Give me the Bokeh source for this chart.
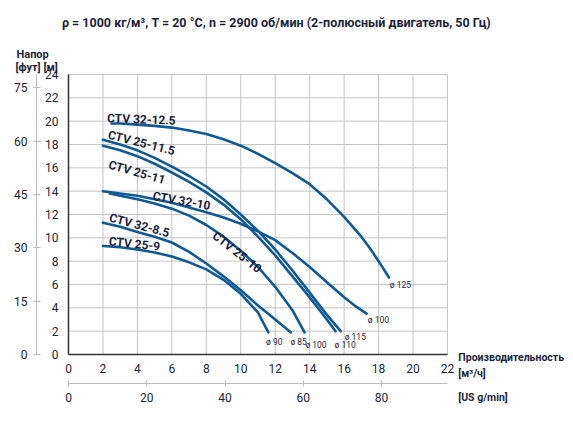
from bokeh.plotting import figure
from bokeh.models import LinearAxis, Range1d, Label
from bokeh.embed import file_html
from bokeh.resources import INLINE

FONT = "Roboto"
INK = "#1c1f3a"
CURVE = "#0f5a96"
GRID = "#c4c4c4"
AXIS = "#333333"
SEC = "#bdbdbd"

# ---- axes / ticks ----
x_ticks = [0, 2, 4, 6, 8, 10, 12, 14, 16, 18, 20, 22]
y_ticks = [0, 2, 4, 6, 8, 10, 12, 14, 16, 18, 20, 22, 24]
ft_ticks = [0, 15, 30, 45, 60, 75]
gpm_ticks = [0, 20, 40, 60, 80]
M3H_TO_GPM = 4.40287
M_TO_FT = 3.28084

# ---- pump curves (flow m3/h, head m) ----
names = ["CTV 32-12.5", "CTV 25-11.5", "CTV 25-11", "CTV 32-10", "CTV 25-10", "CTV 32-8.5", "CTV 25-9"]
diameters = ["ø 125", "ø 115", "ø 110", "ø 100", "ø 100", "ø 85", "ø 90"]

flow_32_125 = [2.5, 3, 4, 5, 6, 7, 8, 9, 10, 11, 12, 13, 14, 15, 16, 17, 17.5, 18, 18.6]
head_32_125 = [19.8, 19.8, 19.7, 19.6, 19.45, 19.2, 18.9, 18.45, 17.9, 17.2, 16.4, 15.55, 14.6, 13.3, 11.8, 10.1, 9.1, 8.0, 6.6]

flow_25_115 = [2, 3, 4, 5, 6, 7, 8, 9, 10, 11, 12, 13, 14, 15, 15.8]
head_25_115 = [18.4, 18.0, 17.5, 16.85, 16.1, 15.3, 14.4, 13.3, 12.0, 10.6, 9.0, 7.2, 5.3, 3.4, 2.0]

flow_25_11 = [2, 3, 4, 5, 6, 7, 8, 9, 10, 11, 12, 13, 14, 15, 15.5]
head_25_11 = [17.9, 17.5, 17.0, 16.35, 15.6, 14.8, 13.9, 12.85, 11.6, 10.1, 8.5, 6.7, 4.9, 3.0, 2.0]

flow_32_10 = [2, 3, 4, 5, 6, 7, 8, 9, 10, 11, 12, 13, 14, 15, 16, 16.7, 17.3]
head_32_10 = [14.0, 13.8, 13.6, 13.3, 13.0, 12.6, 12.2, 11.75, 11.2, 10.55, 9.8, 8.7, 7.5, 6.2, 4.9, 4.1, 3.5]

flow_25_10 = [2.4, 3, 4, 5, 6, 7, 8, 9, 10, 11, 12, 13, 13.7]
head_25_10 = [13.8, 13.6, 13.3, 12.95, 12.5, 11.9, 11.1, 10.1, 8.9, 7.5, 5.8, 3.8, 1.9]

flow_32_85 = [2, 3, 4, 5, 6, 7, 8, 9, 10, 11, 12, 12.9]
head_32_85 = [11.3, 10.95, 10.5, 10.1, 9.6, 8.8, 7.8, 6.7, 5.5, 4.2, 3.0, 1.9]

flow_25_9 = [2, 3, 4, 5, 6, 7, 8, 9, 10, 11, 11.6]
head_25_9 = [9.3, 9.2, 9.0, 8.75, 8.4, 7.9, 7.3, 6.4, 5.2, 3.6, 1.9]

flows = [flow_32_125, flow_25_115, flow_25_11, flow_32_10, flow_25_10, flow_32_85, flow_25_9]
heads = [head_32_125, head_25_115, head_25_11, head_32_10, head_25_10, head_32_85, head_25_9]

# label placement (data units, degrees)
name_pos = [(2.24, 20.25, -2), (2.3, 18.85, -14), (2.34, 16.3, -16), (4.9, 13.6, -10),
            (8.45, 10.3, -38), (2.38, 11.75, -15), (2.34, 9.7, -6)]
dia_pos = [(18.65, 6.0), (16.03, 1.5), (15.44, 0.85), (17.37, 3.0), (13.75, 0.85), (12.88, 1.05), (11.47, 1.05)]

# ---- layout: frame covers the whole canvas; axes sit at fixed locations ----
W, H = 572, 422
PX_X = 379 / 22.0          # px per m3/h
PX_Y = 280 / 24.0          # px per m
LEFT_PX, TOP_PX = 68, 74   # plot area origin inside canvas
x0 = -LEFT_PX / PX_X
x1 = (W - LEFT_PX) / PX_X
y1 = (TOP_PX + 280) / PX_Y
y0 = -(H - TOP_PX - 280) / PX_Y

p = figure(width=W, height=H, x_range=Range1d(x0, x1), y_range=Range1d(y0, y1),
           output_backend="svg", toolbar_location=None, min_border=0)
p.extra_x_ranges = {"gpm": Range1d(x0 * M3H_TO_GPM, x1 * M3H_TO_GPM)}
p.extra_y_ranges = {"ft": Range1d(y0 * M_TO_FT, y1 * M_TO_FT)}
p.outline_line_color = None
p.xgrid.visible = False
p.ygrid.visible = False
p.background_fill_color = "white"
p.border_fill_color = "white"

# grid lines at tick positions
p.segment(x0=x_ticks, y0=[0] * len(x_ticks), x1=x_ticks, y1=[24] * len(x_ticks),
          line_color=GRID, line_width=1)
p.segment(x0=[0] * len(y_ticks), y0=y_ticks, x1=[22] * len(y_ticks), y1=y_ticks,
          line_color=GRID, line_width=1)

def style(ax, line_color, lw, tin, tout, standoff):
    ax.axis_line_color = line_color
    ax.axis_line_width = lw
    ax.major_tick_line_color = line_color
    ax.major_tick_in = tin
    ax.major_tick_out = tout
    ax.minor_tick_line_color = None
    ax.major_label_standoff = standoff
    ax.major_label_text_font = FONT
    ax.major_label_text_font_size = "12px"
    ax.major_label_text_color = INK

xa = p.xaxis[0]
xa.ticker = x_ticks
xa.fixed_location = 0
xa.bounds = (0, 22)
style(xa, AXIS, 1.5, 0, 0, 9)

ya = p.yaxis[0]
ya.ticker = y_ticks
ya.fixed_location = 0
ya.bounds = (0, 24)
style(ya, AXIS, 1.5, 0, 0, 10)

ft_axis = LinearAxis(y_range_name="ft", ticker=ft_ticks, fixed_location=-32 / PX_X,
                     bounds=(0, 24 * M_TO_FT))
style(ft_axis, SEC, 1, 4, 3, 6)
p.add_layout(ft_axis, "left")

gpm_axis = LinearAxis(x_range_name="gpm", ticker=gpm_ticks, fixed_location=-29 / PX_Y,
                      bounds=(0, 22 * M3H_TO_GPM))
style(gpm_axis, SEC, 1, 3, 3, 6)
p.add_layout(gpm_axis, "below")

for fx, hy in zip(flows, heads):
    p.line(fx, hy, line_color=CURVE, line_width=2.6, line_join="round", line_cap="round")

for nm, (lx, ly, ang) in zip(names, name_pos):
    p.add_layout(Label(x=lx, y=ly, text=nm, angle=ang, angle_units="deg",
                       text_font=FONT, text_font_style="bold", text_font_size="12px",
                       text_color=INK, text_baseline="alphabetic", text_align="left"))

for dm, (dx, dy) in zip(diameters, dia_pos):
    p.add_layout(Label(x=dx, y=dy, text=dm, text_font=FONT, text_font_size="8.5px",
                       text_color=INK, text_baseline="alphabetic", text_align="left"))

texts = [
    ("ρ = 1000 кг/м³, T = 20 °C, n = 2900 об/мин (2-полюсный двигатель, 50 Гц)", 12.07, 28.5, "center", "12.5px"),
    ("Напор", -3.02, 25.7, "left", "11px"),
    ("[фут] [м]", -3.08, 24.6, "left", "11px"),
    ("Производительность", 22.63, -0.26, "left", "10.5px"),
    ("[м³/ч]", 22.63, -1.63, "left", "10.5px"),
    ("[US g/min]", 22.63, -3.68, "left", "10.5px"),
]
for txt, tx, ty, al, fs in texts:
    p.add_layout(Label(x=tx, y=ty, text=txt, text_font=FONT, text_font_style="bold",
                       text_font_size=fs, text_color=INK, text_baseline="alphabetic",
                       text_align=al))

open("out.html", "w").write(file_html(p, INLINE))
